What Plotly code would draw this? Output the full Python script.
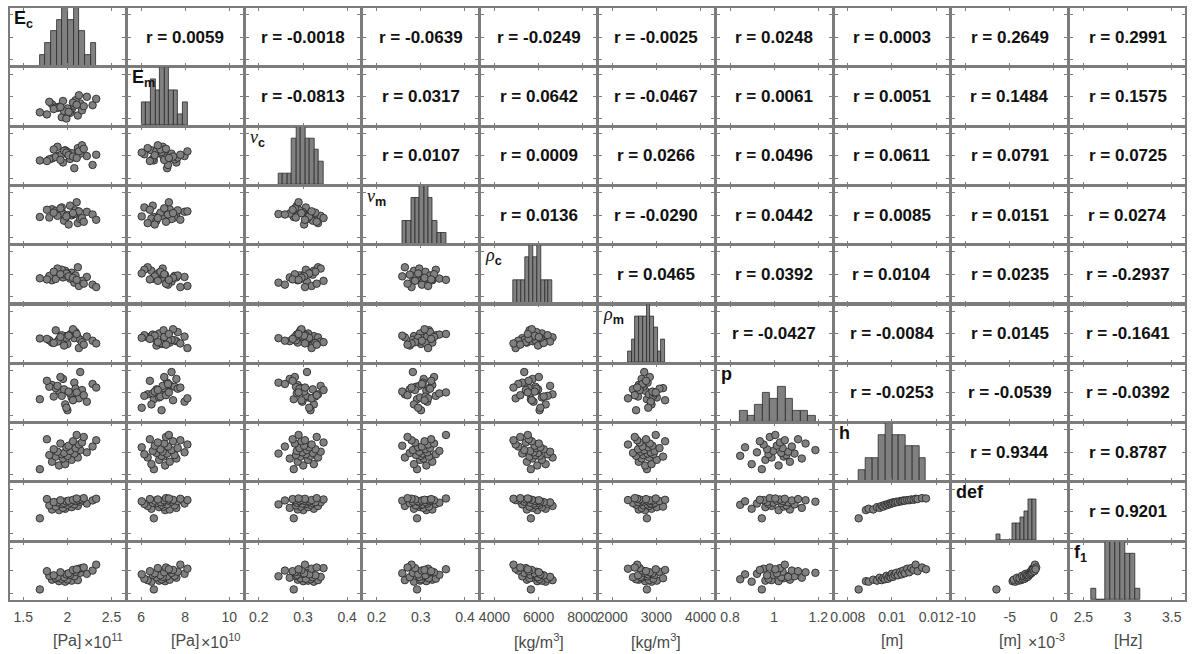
import numpy as np
import plotly.graph_objects as go
from plotly.subplots import make_subplots

# ---------------- data (30 samples, read/estimated from the picture) ----------------
# Ec in units of 1e11 Pa
Ec = [1.688, 1.905, 1.975, 1.826, 2.048, 1.950, 2.118, 1.868, 2.000, 1.795,
      1.936, 2.078, 1.962, 2.220, 1.888, 2.030, 2.145, 1.845, 2.092, 1.988,
      2.285, 2.014, 2.130, 1.921, 2.165, 2.063, 2.326, 1.768, 2.185, 2.105]
# Em in units of 1e10 Pa
Em = [6.58, 7.09, 6.47, 7.30, 6.82, 7.60, 6.30, 7.02, 6.93, 7.52,
      6.15, 7.18, 6.70, 7.97, 6.98, 6.53, 7.38, 6.88, 7.66, 6.03,
      7.22, 6.62, 8.10, 7.05, 6.76, 7.45, 7.78, 6.40, 7.13, 7.26]
nu_c = [0.2790, 0.3005, 0.3245, 0.2880, 0.3115, 0.2700, 0.3340, 0.2945, 0.3170, 0.2840,
        0.3065, 0.2445, 0.3220, 0.2985, 0.3400, 0.2860, 0.3090, 0.3280, 0.2920, 0.3140,
        0.2590, 0.3025, 0.3195, 0.2815, 0.3465, 0.2965, 0.3045, 0.2765, 0.3310, 0.2900]
nu_m = [0.2915, 0.3125, 0.2845, 0.3260, 0.2985, 0.3065, 0.2640, 0.3185, 0.3005, 0.2890,
        0.3340, 0.3045, 0.2750, 0.3145, 0.2965, 0.3420, 0.2820, 0.3105, 0.3210, 0.2940,
        0.3025, 0.2580, 0.3165, 0.3300, 0.2870, 0.3085, 0.2790, 0.3235, 0.2700, 0.3570]
# densities in kg/m^3
rho_c = [5650, 5940, 6320, 5470, 6150, 5730, 6632, 5590, 6045, 5860,
         6410, 5260, 5975, 5770, 6520, 5620, 5350, 6230, 5900, 6080,
         5080, 5820, 4960, 6010, 5420, 5690, 4863, 5550, 5170, 5510]
rho_m = [2785, 2745, 2890, 2600, 3010, 2665, 2835, 3150, 2540, 2705,
         2930, 2800, 2470, 2870, 2645, 2960, 2725, 2585, 3070, 2815,
         2685, 2910, 2357, 2850, 2620, 3197, 2565, 2765, 2510, 2985]
p = [0.944, 1.020, 0.898, 1.071, 0.960, 1.125, 0.988, 1.043, 0.846, 1.055,
     0.974, 1.092, 1.032, 0.922, 1.063, 0.996, 1.1866, 0.968, 1.038, 0.868,
     1.080, 1.012, 0.952, 1.142, 1.026, 0.935, 1.048, 1.108, 0.980, 1.005]
# thickness in m
h = [0.00849, 0.00882, 0.00894, 0.00915, 0.00932, 0.00944, 0.00953, 0.00961, 0.00968, 0.00975,
     0.00982, 0.00988, 0.00994, 0.00999, 0.01005, 0.01012, 0.01019, 0.01027, 0.01037, 0.01044,
     0.01051, 0.01058, 0.01069, 0.01078, 0.01087, 0.01098, 0.01107, 0.01116, 0.01136, 0.01154]
# deflection in units of 1e-3 m
deflection = [-6.51, -4.68, -4.38, -4.55, -4.02, -4.18, -3.75, -3.90, -3.50, -3.62,
              -3.30, -3.40, -3.12, -3.21, -2.95, -3.03, -2.80, -2.88, -2.66, -2.72,
              -2.52, -2.58, -2.44, -2.48, -2.30, -2.38, -2.15, -2.22, -2.01, -2.08]
# first natural frequency in Hz
f1 = [2.586, 2.770, 2.758, 2.803, 2.782, 2.847, 2.793, 2.836, 2.812, 2.889,
      2.824, 2.878, 2.858, 2.933, 2.866, 2.911, 2.956, 2.900, 2.980, 2.922,
      3.006, 2.945, 3.048, 2.968, 3.061, 3.020, 3.138, 2.993, 3.075, 3.035]

variables = [Ec, Em, nu_c, nu_m, rho_c, rho_m, p, h, deflection, f1]

diag_labels = [
    "<b>E<sub>c</sub></b>",
    "<b>E<sub>m</sub></b>",
    "<span style='font-family:Liberation Serif;font-weight:normal'><i>ν</i></span><b><sub>c</sub></b>",
    "<span style='font-family:Liberation Serif;font-weight:normal'><i>ν</i></span><b><sub>m</sub></b>",
    "<span style='font-family:Liberation Serif;font-weight:normal'><i>ρ</i></span><b><sub>c</sub></b>",
    "<span style='font-family:Liberation Serif;font-weight:normal'><i>ρ</i></span><b><sub>m</sub></b>",
    "<b>p</b>", "<b>h</b>", "<b>def</b>", "<b>f<sub>1</sub></b>",
]

tick_values = [[1.5, 2, 2.5], [6, 8, 10], [0.2, 0.3, 0.4], [0.2, 0.3, 0.4],
               [4000, 6000, 8000], [2000, 3000, 4000], [0.8, 1, 1.2],
               [0.008, 0.01, 0.012], [-10, -5, 0], [2.5, 3, 3.5]]
tick_labels = [["1.5", "2", "2.5"], ["6", "8", "10"], ["0.2", "0.3", "0.4"], ["0.2", "0.3", "0.4"],
               ["4000", "6000", "8000"], ["2000", "3000", "4000"], ["0.8", "1", "1.2"],
               ["0.008", "0.01", "0.012"], ["-10", "-5", "0"], ["2.5", "3", "3.5"]]
units = ["[Pa]", "[Pa]", "", "", "[kg/m<sup>3</sup>]", "[kg/m<sup>3</sup>]", "", "[m]", "[m]", "[Hz]"]
exponents = ["×10<sup>11</sup>", "×10<sup>10</sup>", "", "", "", "", "", "", "×10<sup>-3</sup>", ""]

# correlation coefficients shown in the upper triangle (row by row)
r_values = [
    [0.0059, -0.0018, -0.0639, -0.0249, -0.0025, 0.0248, 0.0003, 0.2649, 0.2991],
    [-0.0813, 0.0317, 0.0642, -0.0467, 0.0061, 0.0051, 0.1484, 0.1575],
    [0.0107, 0.0009, 0.0266, 0.0496, 0.0611, 0.0791, 0.0725],
    [0.0136, -0.0290, 0.0442, 0.0085, 0.0151, 0.0274],
    [0.0465, 0.0392, 0.0104, 0.0235, -0.2937],
    [-0.0427, -0.0084, 0.0145, -0.1641],
    [-0.0253, -0.0539, -0.0392],
    [0.9344, 0.8787],
    [0.9201],
]

# ---------------- figure ----------------
n = len(variables)
W, H = 1195, 654
ML, MR, MT, MB = 6, 6, 7, 54
fig = make_subplots(rows=n, cols=n,
                    horizontal_spacing=3 / (W - ML - MR),
                    vertical_spacing=1 / (H - MT - MB))

FILL = "#808080"
EDGE = "#2b2b2b"
FRAME = "#7c7c7c"
TEXTGRAY = "#4a4a4a"
FONT = "Liberation Sans, Arial, sans-serif"
MARGIN_FRAC = 0.3


def axis_range(ticks):
    step = ticks[1] - ticks[0]
    return [ticks[0] - MARGIN_FRAC * step, ticks[-1] + MARGIN_FRAC * step]


annotations = []


def ax_id(i, j):
    k = i * n + j + 1
    return ("x" if k == 1 else f"x{k}"), ("y" if k == 1 else f"y{k}")


for i in range(n):
    for j in range(n):
        r, c = i + 1, j + 1
        xa, ya = ax_id(i, j)
        xr = axis_range(tick_values[j])
        if i == j:
            counts, edges = np.histogram(variables[j], bins=10)
            centers = (edges[:-1] + edges[1:]) / 2
            fig.add_trace(go.Bar(x=centers, y=counts, width=edges[1] - edges[0],
                                 marker=dict(color=FILL, line=dict(color=EDGE, width=0.8)),
                                 showlegend=False, hoverinfo="skip"), row=r, col=c)
            ymax = int(counts.max()) if counts.max() <= 5 else 10
            yr = [0, ymax]
            frac0 = MARGIN_FRAC / (2 + 2 * MARGIN_FRAC)
            ytv = [ymax * frac0, ymax * 0.5, ymax * (1 - frac0)]
            annotations.append(dict(text=diag_labels[i], xref=f"{xa} domain", yref=f"{ya} domain",
                                    x=0, y=1, xanchor="left", yanchor="top", xshift=2, yshift=2,
                                    showarrow=False, font=dict(size=18, color="#111111", family=FONT)))
        elif i > j:
            fig.add_trace(go.Scatter(x=variables[j], y=variables[i], mode="markers",
                                     marker=dict(size=7.5, color=FILL, line=dict(color=EDGE, width=0.9)),
                                     showlegend=False, hoverinfo="skip"), row=r, col=c)
            yr = axis_range(tick_values[i])
            ytv = tick_values[i]
        else:
            # empty trace so that the panel (frame + ticks) is drawn
            fig.add_trace(go.Scatter(x=[], y=[], mode="markers", showlegend=False,
                                     hoverinfo="skip"), row=r, col=c)
            yr = axis_range(tick_values[i])
            ytv = tick_values[i]
            annotations.append(dict(text=f"<b>r = {r_values[i][j - i - 1]:.4f}</b>",
                                    xref=f"{xa} domain", yref=f"{ya} domain",
                                    x=0.5, y=0.5, xanchor="center", yanchor="middle",
                                    showarrow=False, font=dict(size=17, color="#111111", family=FONT)))
        bottom = (i == n - 1)
        fig.update_xaxes(range=xr, tickvals=tick_values[j],
                         ticktext=tick_labels[j] if bottom else None,
                         showticklabels=bottom, ticks="inside", ticklen=3, tickcolor=FRAME,
                         tickwidth=1, showline=True, linecolor=FRAME, linewidth=2,
                         mirror="allticks", showgrid=False, zeroline=False,
                         tickfont=dict(size=14, color=TEXTGRAY, family=FONT),
                         ticklabelstandoff=3, row=r, col=c)
        fig.update_yaxes(range=yr, tickvals=ytv, showticklabels=False, ticks="inside",
                         ticklen=3, tickcolor=FRAME, tickwidth=1, showline=True,
                         linecolor=FRAME, linewidth=2, mirror="allticks",
                         showgrid=False, zeroline=False, row=r, col=c)

# unit labels under the bottom row
for j in range(n):
    xa, _ = ax_id(n - 1, j)
    dom = fig.layout["xaxis" if xa == "x" else "xaxis" + xa[1:]].domain
    ylab = -41 / (H - MT - MB)
    if units[j]:
        annotations.append(dict(text=units[j], xref="paper", yref="paper",
                                x=(dom[0] + dom[1]) / 2, y=ylab, xanchor="center", yanchor="middle",
                                showarrow=False, font=dict(size=16, color=TEXTGRAY, family=FONT)))
    if exponents[j]:
        annotations.append(dict(text=exponents[j], xref="paper", yref="paper",
                                x=dom[1], y=ylab, xanchor="right", yanchor="middle",
                                showarrow=False, font=dict(size=16, color=TEXTGRAY, family=FONT)))

fig.update_layout(width=W, height=H, margin=dict(l=ML, r=MR, t=MT, b=MB),
                  paper_bgcolor="white", plot_bgcolor="white", bargap=0,
                  font=dict(family=FONT), annotations=annotations, showlegend=False)

fig.write_html("out.html", config={"displayModeBar": False},
               post_script="document.body.style.margin='0px';document.body.style.overflow='hidden';")
